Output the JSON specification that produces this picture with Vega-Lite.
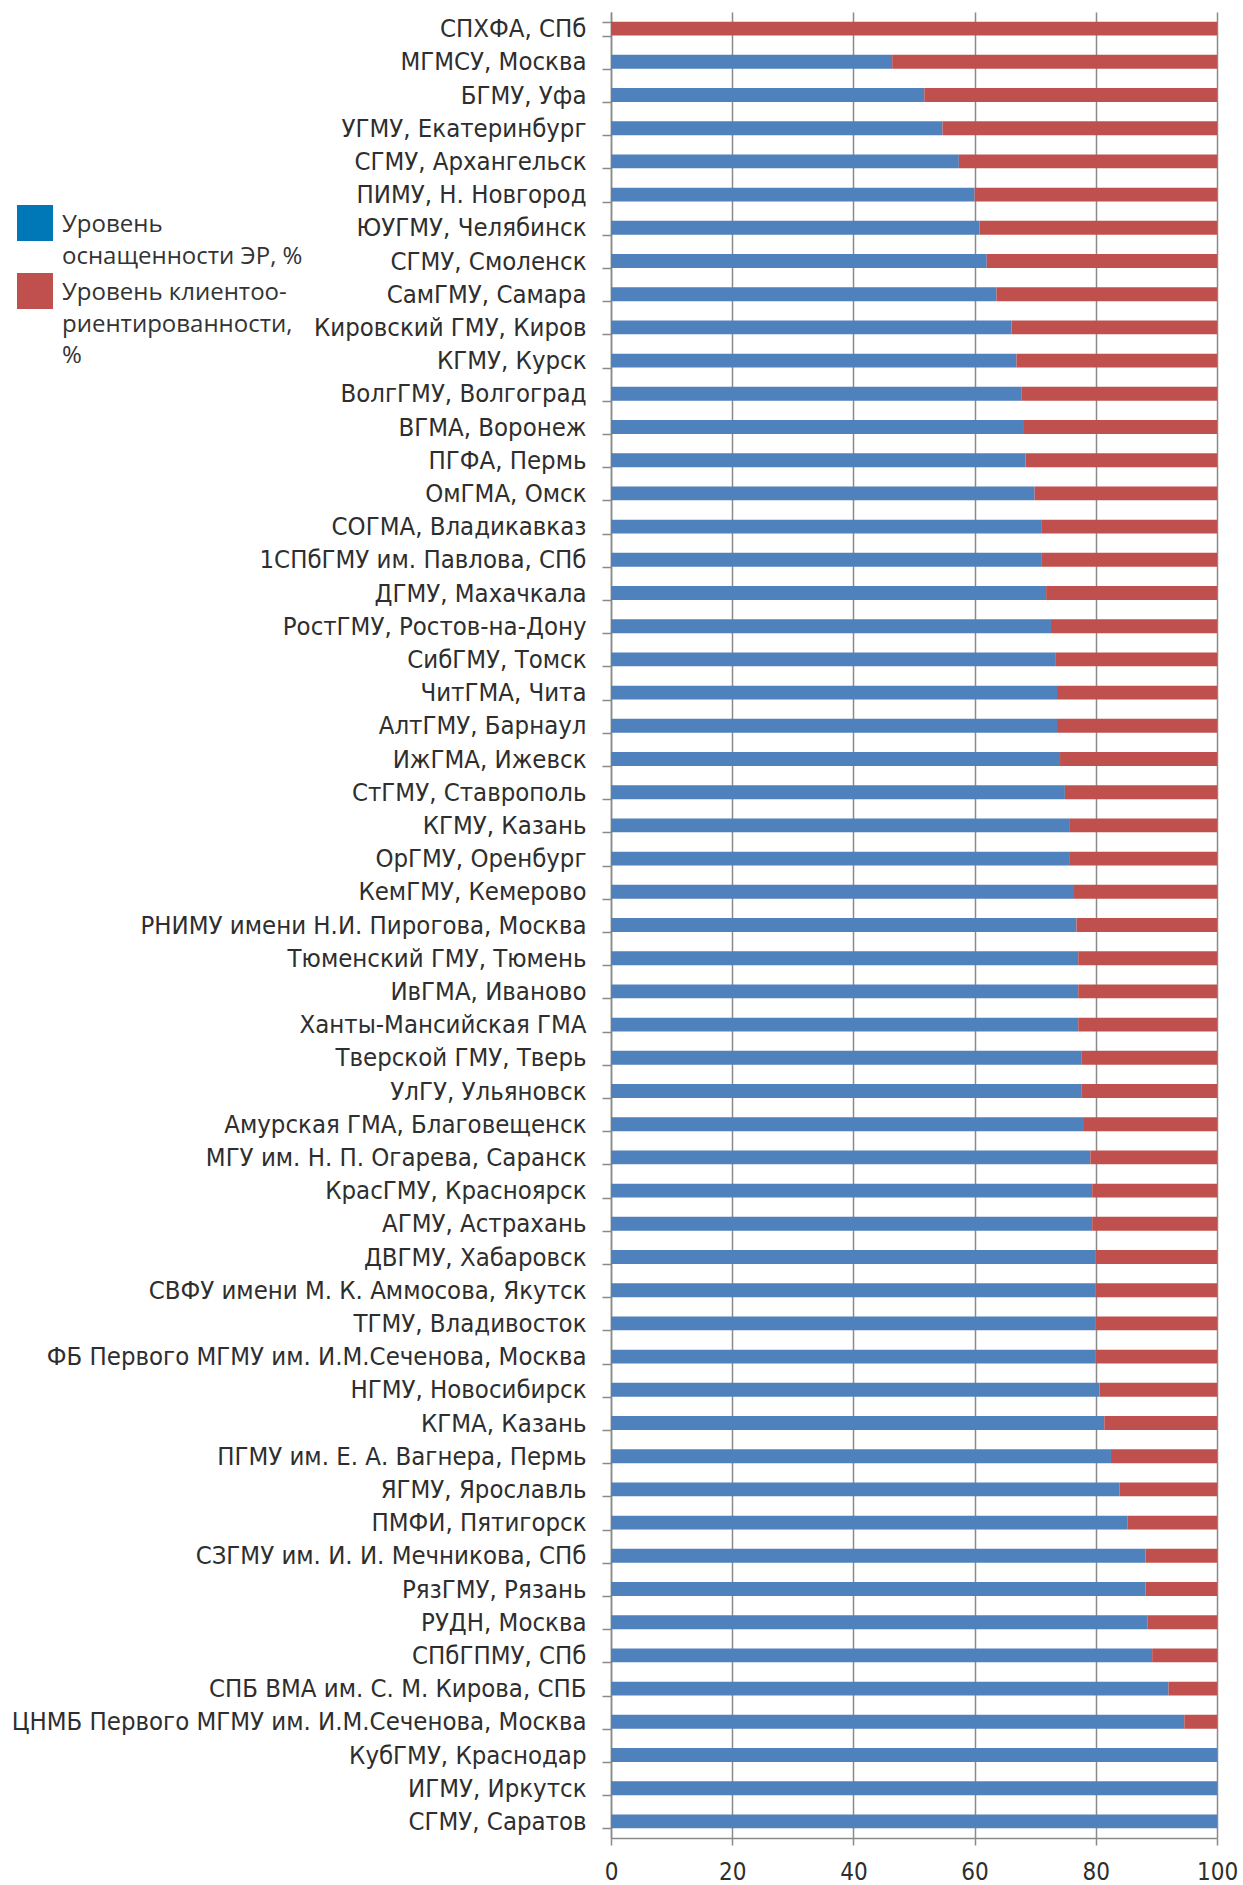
{
  "$schema": "https://vega.github.io/schema/vega-lite/v6.json",
  "autosize": {"type": "none"},
  "padding": {"left": 611, "top": 12, "right": 26, "bottom": 47},
  "width": 606,
  "height": 1826,
  "background": "white",
  "data": {
    "values": [
      {"u": "СПХФА, СПб", "Уровень оснащенности ЭР, %": 0, "Уровень клиентоориентированности, %": 100},
      {"u": "МГМСУ, Москва", "Уровень оснащенности ЭР, %": 46.4, "Уровень клиентоориентированности, %": 53.6},
      {"u": "БГМУ, Уфа", "Уровень оснащенности ЭР, %": 51.7, "Уровень клиентоориентированности, %": 48.3},
      {"u": "УГМУ, Екатеринбург", "Уровень оснащенности ЭР, %": 54.7, "Уровень клиентоориентированности, %": 45.3},
      {"u": "СГМУ, Архангельск", "Уровень оснащенности ЭР, %": 57.4, "Уровень клиентоориентированности, %": 42.6},
      {"u": "ПИМУ, Н. Новгород", "Уровень оснащенности ЭР, %": 60.0, "Уровень клиентоориентированности, %": 40.0},
      {"u": "ЮУГМУ, Челябинск", "Уровень оснащенности ЭР, %": 60.8, "Уровень клиентоориентированности, %": 39.2},
      {"u": "СГМУ, Смоленск", "Уровень оснащенности ЭР, %": 62.0, "Уровень клиентоориентированности, %": 38.0},
      {"u": "СамГМУ, Самара", "Уровень оснащенности ЭР, %": 63.6, "Уровень клиентоориентированности, %": 36.4},
      {"u": "Кировский ГМУ, Киров", "Уровень оснащенности ЭР, %": 66.1, "Уровень клиентоориентированности, %": 33.9},
      {"u": "КГМУ, Курск", "Уровень оснащенности ЭР, %": 66.9, "Уровень клиентоориентированности, %": 33.1},
      {"u": "ВолгГМУ, Волгоград", "Уровень оснащенности ЭР, %": 67.7, "Уровень клиентоориентированности, %": 32.3},
      {"u": "ВГМА, Воронеж", "Уровень оснащенности ЭР, %": 68.0, "Уровень клиентоориентированности, %": 32.0},
      {"u": "ПГФА, Пермь ", "Уровень оснащенности ЭР, %": 68.4, "Уровень клиентоориентированности, %": 31.6},
      {"u": "ОмГМА, Омск", "Уровень оснащенности ЭР, %": 69.9, "Уровень клиентоориентированности, %": 30.1},
      {"u": "СОГМА, Владикавказ", "Уровень оснащенности ЭР, %": 71.1, "Уровень клиентоориентированности, %": 28.9},
      {"u": "1СПбГМУ им. Павлова, СПб", "Уровень оснащенности ЭР, %": 71.1, "Уровень клиентоориентированности, %": 28.9},
      {"u": "ДГМУ, Махачкала", "Уровень оснащенности ЭР, %": 71.8, "Уровень клиентоориентированности, %": 28.2},
      {"u": "РостГМУ, Ростов-на-Дону", "Уровень оснащенности ЭР, %": 72.6, "Уровень клиентоориентированности, %": 27.4},
      {"u": "СибГМУ, Томск", "Уровень оснащенности ЭР, %": 73.3, "Уровень клиентоориентированности, %": 26.7},
      {"u": "ЧитГМА, Чита", "Уровень оснащенности ЭР, %": 73.6, "Уровень клиентоориентированности, %": 26.4},
      {"u": "АлтГМУ, Барнаул", "Уровень оснащенности ЭР, %": 73.6, "Уровень клиентоориентированности, %": 26.4},
      {"u": "ИжГМА, Ижевск", "Уровень оснащенности ЭР, %": 74.1, "Уровень клиентоориентированности, %": 25.9},
      {"u": "СтГМУ, Ставрополь", "Уровень оснащенности ЭР, %": 74.9, "Уровень клиентоориентированности, %": 25.1},
      {"u": "КГМУ, Казань", "Уровень оснащенности ЭР, %": 75.6, "Уровень клиентоориентированности, %": 24.4},
      {"u": "ОрГМУ, Оренбург", "Уровень оснащенности ЭР, %": 75.6, "Уровень клиентоориентированности, %": 24.4},
      {"u": "КемГМУ, Кемерово", "Уровень оснащенности ЭР, %": 76.4, "Уровень клиентоориентированности, %": 23.6},
      {"u": "РНИМУ имени Н.И. Пирогова, Москва", "Уровень оснащенности ЭР, %": 76.8, "Уровень клиентоориентированности, %": 23.2},
      {"u": "Тюменский ГМУ, Тюмень", "Уровень оснащенности ЭР, %": 77.1, "Уровень клиентоориентированности, %": 22.9},
      {"u": "ИвГМА, Иваново", "Уровень оснащенности ЭР, %": 77.1, "Уровень клиентоориентированности, %": 22.9},
      {"u": "Ханты-Мансийская ГМА", "Уровень оснащенности ЭР, %": 77.1, "Уровень клиентоориентированности, %": 22.9},
      {"u": "Тверской ГМУ, Тверь", "Уровень оснащенности ЭР, %": 77.6, "Уровень клиентоориентированности, %": 22.4},
      {"u": "УлГУ, Ульяновск", "Уровень оснащенности ЭР, %": 77.6, "Уровень клиентоориентированности, %": 22.4},
      {"u": "Амурская ГМА, Благовещенск", "Уровень оснащенности ЭР, %": 77.9, "Уровень клиентоориентированности, %": 22.1},
      {"u": "МГУ им. Н. П. Огарева, Саранск", "Уровень оснащенности ЭР, %": 79.1, "Уровень клиентоориентированности, %": 20.9},
      {"u": "КрасГМУ, Красноярск", "Уровень оснащенности ЭР, %": 79.4, "Уровень клиентоориентированности, %": 20.6},
      {"u": "АГМУ, Астрахань", "Уровень оснащенности ЭР, %": 79.4, "Уровень клиентоориентированности, %": 20.6},
      {"u": "ДВГМУ, Хабаровск", "Уровень оснащенности ЭР, %": 79.9, "Уровень клиентоориентированности, %": 20.1},
      {"u": "СВФУ имени М. К. Аммосова, Якутск", "Уровень оснащенности ЭР, %": 79.9, "Уровень клиентоориентированности, %": 20.1},
      {"u": "ТГМУ, Владивосток", "Уровень оснащенности ЭР, %": 79.9, "Уровень клиентоориентированности, %": 20.1},
      {"u": "ФБ Первого МГМУ им. И.М.Сеченова, Москва", "Уровень оснащенности ЭР, %": 79.9, "Уровень клиентоориентированности, %": 20.1},
      {"u": "НГМУ, Новосибирск", "Уровень оснащенности ЭР, %": 80.6, "Уровень клиентоориентированности, %": 19.4},
      {"u": "КГМА, Казань", "Уровень оснащенности ЭР, %": 81.4, "Уровень клиентоориентированности, %": 18.6},
      {"u": "ПГМУ им. Е. А. Вагнера, Пермь ", "Уровень оснащенности ЭР, %": 82.5, "Уровень клиентоориентированности, %": 17.5},
      {"u": "ЯГМУ, Ярославль", "Уровень оснащенности ЭР, %": 83.9, "Уровень клиентоориентированности, %": 16.1},
      {"u": "ПМФИ, Пятигорск", "Уровень оснащенности ЭР, %": 85.2, "Уровень клиентоориентированности, %": 14.8},
      {"u": "СЗГМУ им. И. И. Мечникова, СПб", "Уровень оснащенности ЭР, %": 88.2, "Уровень клиентоориентированности, %": 11.8},
      {"u": "РязГМУ, Рязань", "Уровень оснащенности ЭР, %": 88.2, "Уровень клиентоориентированности, %": 11.8},
      {"u": "РУДН, Москва", "Уровень оснащенности ЭР, %": 88.5, "Уровень клиентоориентированности, %": 11.5},
      {"u": "СПбГПМУ, СПб", "Уровень оснащенности ЭР, %": 89.3, "Уровень клиентоориентированности, %": 10.7},
      {"u": "СПБ ВМА им. С. М. Кирова, СПБ", "Уровень оснащенности ЭР, %": 92.0, "Уровень клиентоориентированности, %": 8.0},
      {"u": "ЦНМБ Первого МГМУ им. И.М.Сеченова, Москва", "Уровень оснащенности ЭР, %": 94.6, "Уровень клиентоориентированности, %": 5.4},
      {"u": "КубГМУ, Краснодар", "Уровень оснащенности ЭР, %": 100, "Уровень клиентоориентированности, %": 0},
      {"u": "ИГМУ, Иркутск", "Уровень оснащенности ЭР, %": 100, "Уровень клиентоориентированности, %": 0},
      {"u": "СГМУ, Саратов", "Уровень оснащенности ЭР, %": 100, "Уровень клиентоориентированности, %": 0}
    ]
  },
  "transform": [
    {"fold": ["Уровень оснащенности ЭР, %", "Уровень клиентоориентированности, %"], "as": ["s", "v"]}
  ],
  "encoding": {
    "y": {
      "field": "u",
      "type": "nominal",
      "sort": null,
      "title": null,
      "scale": {"paddingInner": 0.58, "paddingOuter": 0.29},
      "axis": {
        "domainColor": "#8a8a8a",
        "domainWidth": 1.5,
        "tickColor": "#8a8a8a",
        "tickWidth": 1.5,
        "tickSize": 9,
        "tickBand": "extent",
        "labelFont": "DejaVu Sans Condensed, Liberation Sans Narrow, sans-serif",
        "labelFontSize": 25.5,
        "labelColor": "#2e2e2e",
        "labelPadding": 16,
        "labelLimit": 700,
        "grid": false
      }
    },
    "x": {
      "field": "v",
      "type": "quantitative",
      "stack": "zero",
      "title": null,
      "scale": {"domain": [0, 100], "nice": false},
      "axis": {
        "values": [0, 20, 40, 60, 80, 100],
        "grid": true,
        "gridColor": "#8a8a8a",
        "gridWidth": 1.5,
        "domainColor": "#8a8a8a",
        "domainWidth": 1.5,
        "tickColor": "#8a8a8a",
        "tickWidth": 1.5,
        "tickSize": 7,
        "labelFont": "DejaVu Sans Condensed, Liberation Sans Narrow, sans-serif",
        "labelFontSize": 24,
        "labelColor": "#2e2e2e",
        "labelPadding": 15,
        "labelFlush": false
      }
    },
    "order": {"field": "s", "sort": "descending"}
  },
  "layer": [
    {
      "mark": {"type": "bar"},
      "encoding": {
        "fill": {
          "field": "s",
          "type": "nominal",
          "scale": {
            "domain": ["Уровень клиентоориентированности, %", "Уровень оснащенности ЭР, %"],
            "range": ["#c0504d", "#4f81bd"]
          },
          "legend": null
        }
      }
    },
    {
      "mark": {"type": "bar", "opacity": 0},
      "encoding": {
        "color": {
          "field": "s",
          "type": "nominal",
          "scale": {
            "domain": ["Уровень оснащенности ЭР, %", "Уровень клиентоориентированности, %"],
            "range": ["#0078b7", "#c0504d"]
          },
          "legend": {
            "title": null,
            "orient": "none",
            "legendX": -594,
            "legendY": 193,
            "symbolType": "square",
            "symbolSize": 1296,
            "symbolStrokeWidth": 0,
            "symbolOpacity": 1,
            "labelFont": "Open Sans",
            "labelFontSize": 24,
            "labelColor": "#333333",
            "labelLimit": 400,
            "labelOffset": 9,
            "labelBaseline": "alphabetic",
            "rowPadding": 4,
            "labelExpr": "datum.label == 'Уровень оснащенности ЭР, %' ? ['Уровень', 'оснащенности ЭР, %'] : ['Уровень клиентоо-', 'риентированности,', '%']",
            "encode": {
              "symbols": {
                "update": {
                  "opacity": {"value": 1}
                }
              },
              "labels": {
                "update": {
                  "dy": {"value": 9},
                  "lineHeight": {"value": 31.7}
                }
              }
            }
          }
        }
      }
    }
  ],
  "config": {
    "view": {"stroke": null}
  }
}
